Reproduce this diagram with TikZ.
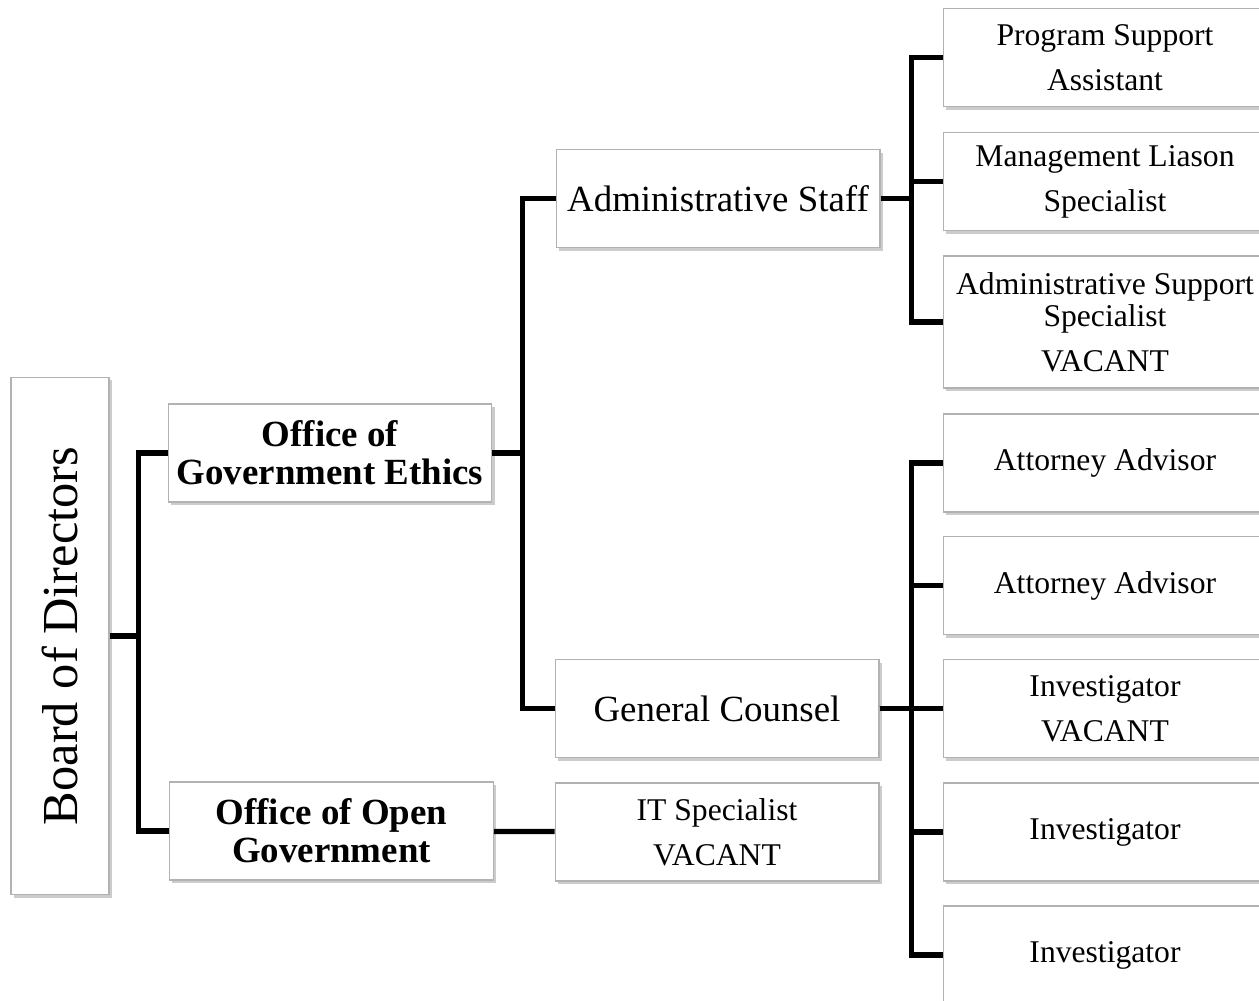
\documentclass[tikz,border=0pt]{standalone}
\usepackage{fontspec}
\setmainfont{Liberation Serif}
\usetikzlibrary{shadows}

\begin{document}
\begin{tikzpicture}[x=0.02cm,y=-0.02cm,
    box/.style={draw=gray!60,line width=0.6pt,fill=white,align=center,
        minimum width=6.48cm,minimum height=1.96cm,inner sep=0pt,
        drop shadow={shadow xshift=1.5pt,shadow yshift=-1.8pt,opacity=0.4}},
    head/.style={box,font=\fontsize{21}{21.6}\selectfont\bfseries},
    unit/.style={box,font=\fontsize{21}{25}\selectfont},
    post/.style={box,font=\fontsize{18}{25.6}\selectfont},
    link/.style={line width=3pt}]
    \useasboundingbox (0,0) rectangle (1259,1001);

    % Board
    \node[box,minimum width=1.96cm,minimum height=10.36cm,
        font=\fontsize{28.7}{30}\selectfont] (board) at (60,636) {\rotatebox{90}{Board of Directors}};

    % Offices
    \node[head] (oge) at (330,453) {Office of\\Government Ethics};
    \node[head] (oog) at (331.5,831) {Office of Open\\Government};

    % Units
    \node[unit] (admin) at (718,198.5) {Administrative Staff};
    \node[unit] (counsel) at (717,708.5) {General Counsel};
    \node[post] (itspec) at (717,832) {IT Specialist\\VACANT};

    % Staff posts
    \node[post] (progsup) at (1105,57.5) {Program Support\\Assistant};
    \node[post] (mgmt) at (1105,181.5) {Management Liason\\Specialist};
    \node[post,minimum height=2.64cm] (adminsup) at (1105,322) {Administrative Support\\[-7.4pt]Specialist\\VACANT};

    % Counsel posts
    \node[post] (atty1) at (1105,463) {Attorney Advisor};
    \node[post] (atty2) at (1105,585.5) {Attorney Advisor};
    \node[post] (inv1) at (1105,708.5) {Investigator\\VACANT};
    \node[post] (inv2) at (1105,832) {Investigator};
    \node[post] (inv3) at (1105,955) {Investigator};

    % Connectors
    \foreach \n in {oge,oog} \draw[link] (board.east) -- ++(29,0) |- (\n.west);
    \foreach \n in {admin,counsel} \draw[link] (oge.east) -- ++(30,0) |- (\n.west);
    \foreach \n in {progsup,mgmt,adminsup} \draw[link] (admin.east) -- ++(31,0) |- (\n.west);
    \foreach \n in {atty1,atty2,inv1,inv2,inv3} \draw[link] (counsel.east) -- ++(32,0) |- (\n.west);
    \draw[link] (oog) -- (itspec);
\end{tikzpicture}
\end{document}
